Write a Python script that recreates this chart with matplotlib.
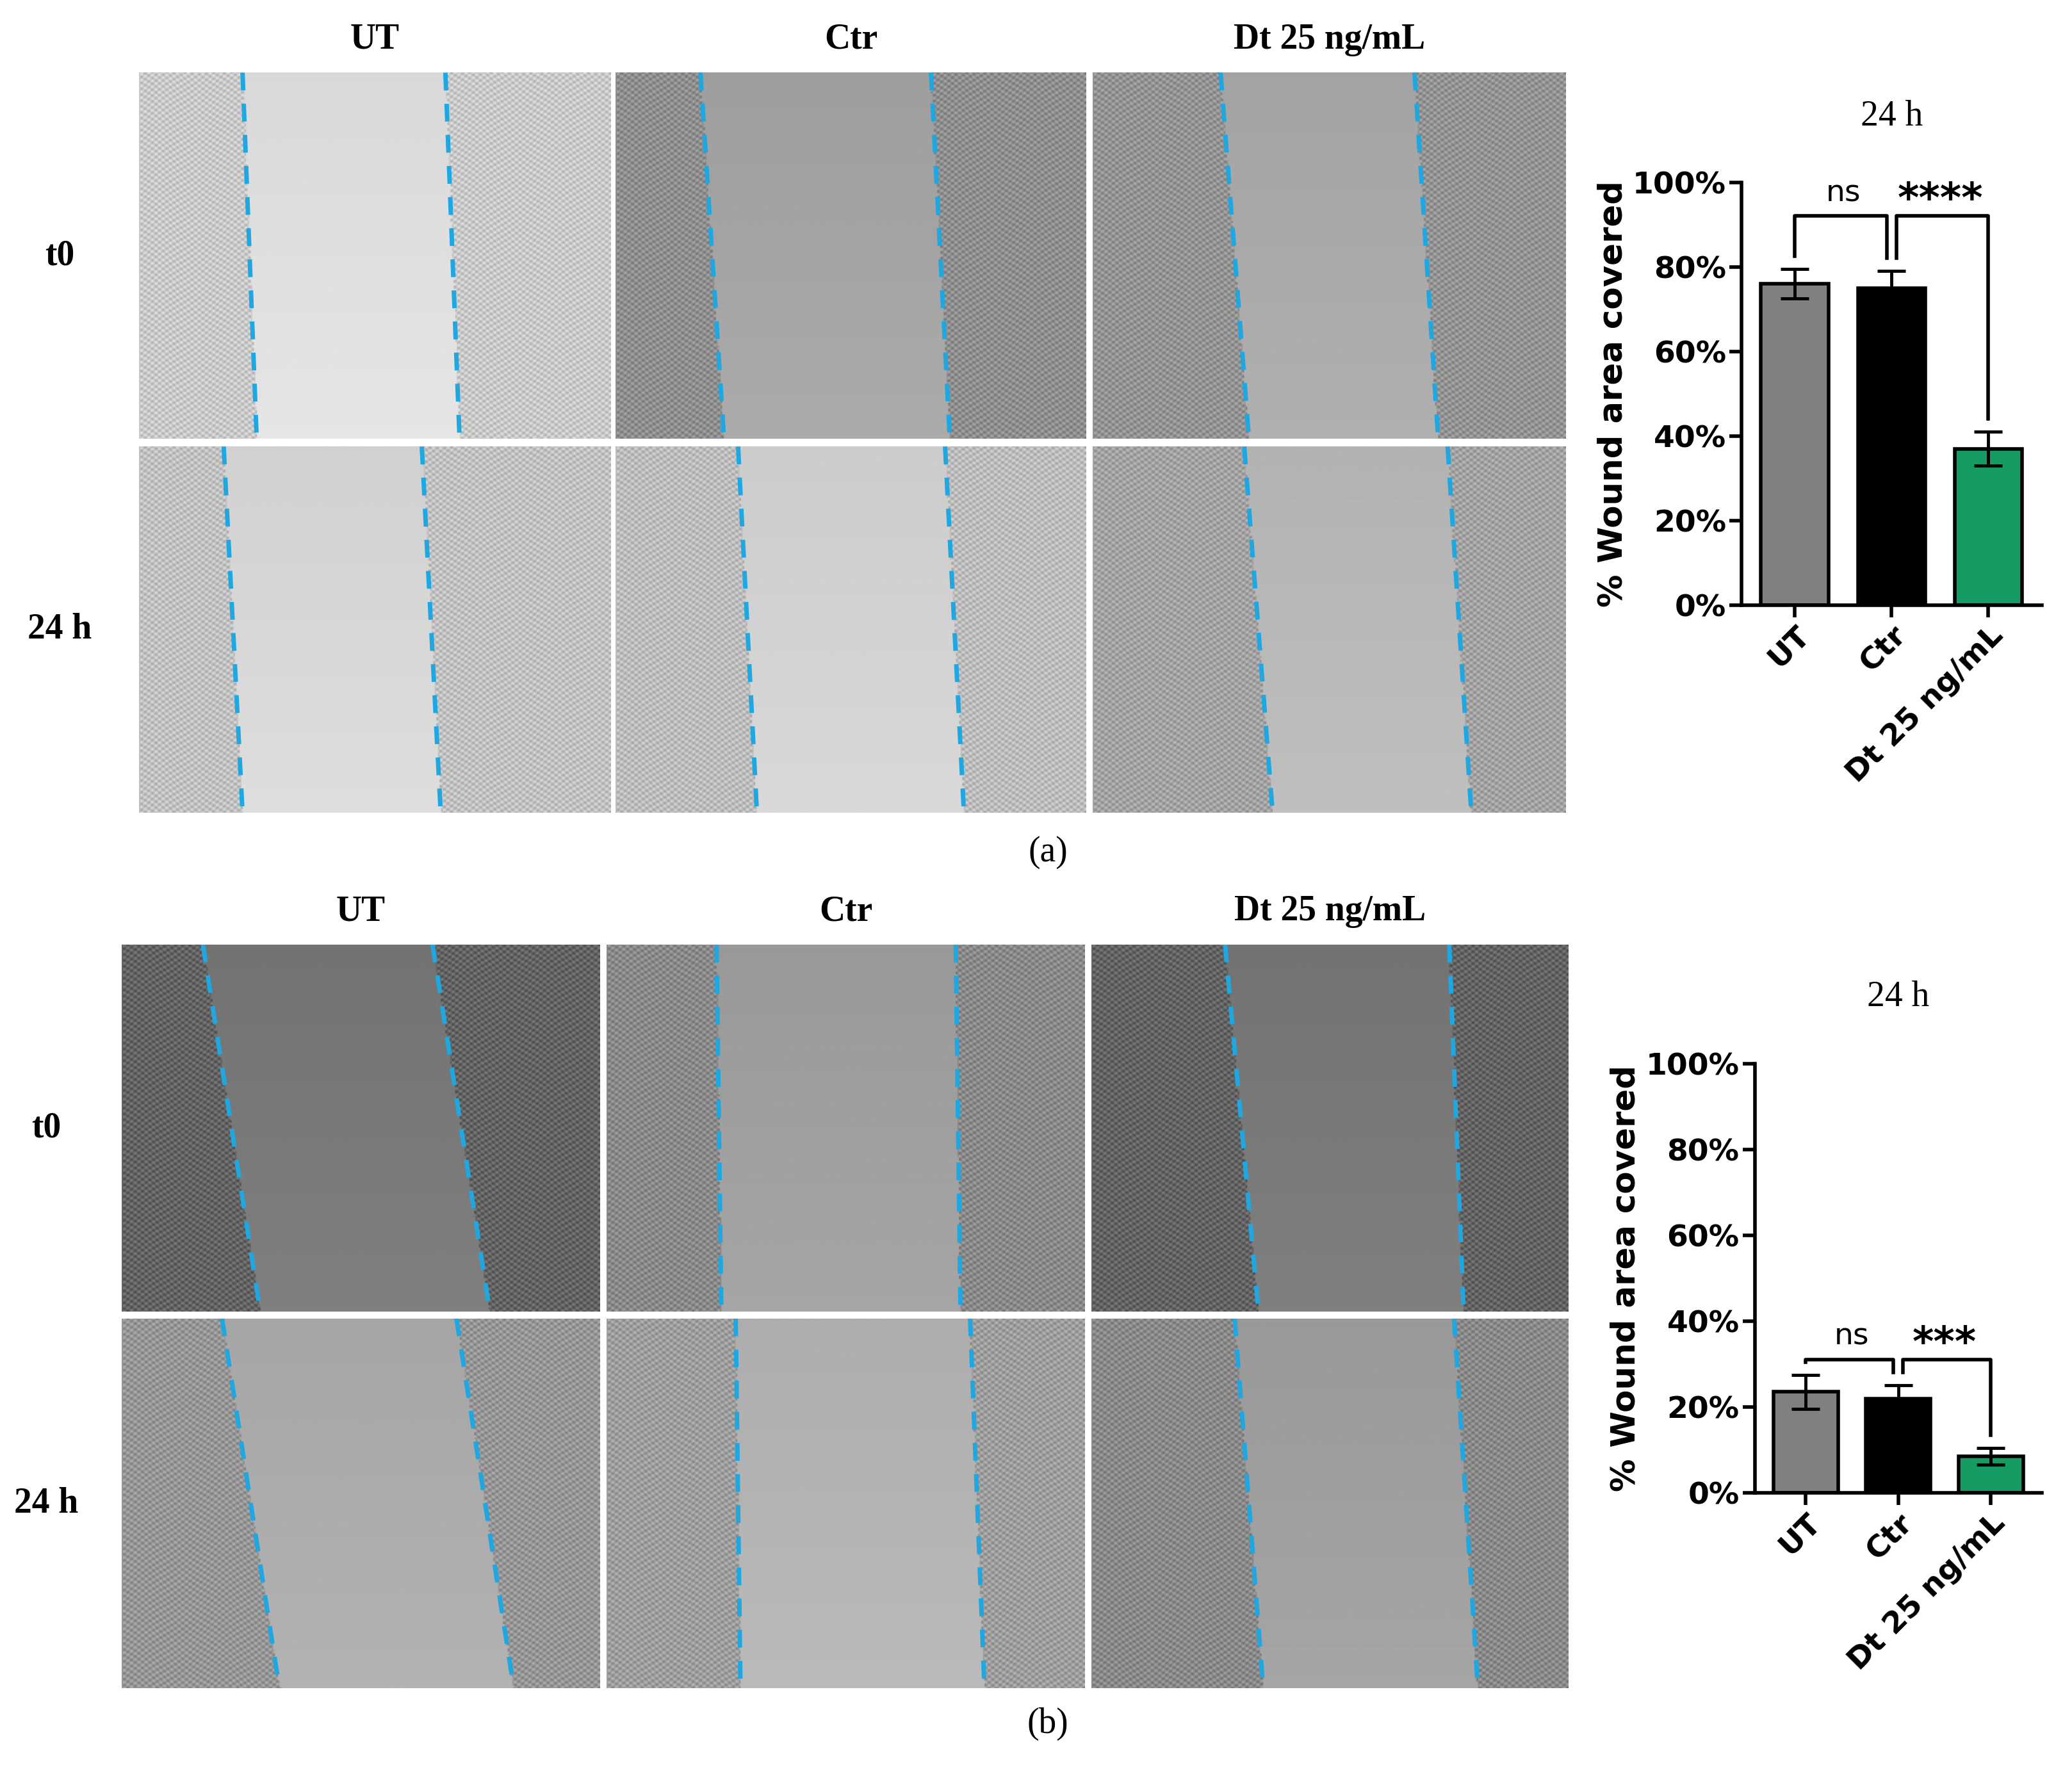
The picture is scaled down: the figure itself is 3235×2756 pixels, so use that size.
import matplotlib.pyplot as plt
import numpy as np
from matplotlib.ticker import PercentFormatter

W, H = 1568, 1336  # layout reference grid
groups = ["UT", "Ctr", "Dt 25 ng/mL"]
rows = ["t0", "24 h"]
bar_colors = ["#808080", "#000000", "#169b62"]

# panel a
a_vals = [76, 75, 37]
a_err = [3.5, 4, 4]
a_bracket = 92
# panel b
b_vals = [23.5, 22, 8.5]
b_err = [4, 3, 2]
b_bracket = 31

# wound edges as fraction of image width: (top-left, bottom-left, top-right, bottom-right)
a_edges = [[(0.22, 0.25, 0.65, 0.68), (0.18, 0.22, 0.6, 0.64)],
           [(0.18, 0.23, 0.67, 0.71), (0.26, 0.3, 0.7, 0.74)],
           [(0.27, 0.33, 0.68, 0.73), (0.32, 0.38, 0.75, 0.8)]]
b_edges = [[(0.17, 0.29, 0.65, 0.77), (0.21, 0.33, 0.7, 0.82)],
           [(0.23, 0.24, 0.73, 0.74), (0.27, 0.28, 0.76, 0.79)],
           [(0.28, 0.35, 0.75, 0.78), (0.3, 0.36, 0.76, 0.81)]]
a_tone = [[0.85, 0.82], [0.62, 0.8], [0.64, 0.7]]
b_tone = [[0.45, 0.65], [0.6, 0.68], [0.45, 0.6]]

fig = plt.figure(figsize=(32.35, 27.56), dpi=100)
plt.rcParams['font.family'] = 'DejaVu Sans'


def ax_at(x0, y0, x1, y1):
    return fig.add_axes([x0 / W, 1 - y1 / H, (x1 - x0) / W, (y1 - y0) / H])


def micro(x0, y0, x1, y1, edges, tone):
    ax = ax_at(x0, y0, x1, y1)
    n = 300
    xx, yy = np.meshgrid(np.linspace(0, 1, n), np.linspace(0, 1, n))
    tl, bl, tr, br = edges
    left = tl + (bl - tl) * yy
    right = tr + (br - tr) * yy
    inside = (xx > left) & (xx < right)
    tex = 0.12 * np.sin(xx * 410) * np.sin(yy * 390 + 3 * np.sin(xx * 37))
    img = np.where(inside, tone + 0.05 * yy, tone - 0.06 + tex)
    ax.imshow(np.clip(img, 0, 1), cmap="gray", vmin=0, vmax=1,
              extent=[0, 1, 1, 0], aspect="auto")
    ax.plot([tl, bl], [0, 1], ls=(0, (4, 3)), color="#1ea7e1", lw=5)
    ax.plot([tr, br], [0, 1], ls=(0, (4, 3)), color="#1ea7e1", lw=5)
    ax.set_xlim(0, 1)
    ax.set_ylim(1, 0)
    ax.axis("off")


def panel(cols, rws, edges, tones, head_y, row_x):
    for i, (x0, x1) in enumerate(cols):
        fig.text((x0 + x1) / 2 / W, 1 - head_y / H, groups[i], ha="center",
                 va="center", fontsize=40, fontweight="bold", family="Liberation Serif")
        for j, (y0, y1) in enumerate(rws):
            micro(x0, y0, x1, y1, edges[i][j], tones[i][j])
    for j, (y0, y1) in enumerate(rws):
        fig.text(row_x / W, 1 - (y0 + y1) / 2 / H, rows[j], ha="center",
                 va="center", fontsize=40, fontweight="bold", family="Liberation Serif")


def bars(x0, y0, x1, y1, vals, errs, sig, h1, title_y):
    ax = ax_at(x0, y0, x1, y1)
    x = np.arange(3)
    ax.bar(x, vals, width=0.7, color=bar_colors, edgecolor="black", lw=4,
           yerr=errs, capsize=16, error_kw=dict(lw=3.5, capthick=3.5))
    ax.set_ylim(0, 100)
    ax.set_xlim(-0.55, 2.55)
    ax.yaxis.set_major_formatter(PercentFormatter(decimals=0))
    ax.set_yticks(range(0, 101, 20))
    ax.set_xticks(x)
    ax.set_xticklabels(groups, rotation=45, ha="right", rotation_mode="anchor",
                       fontsize=34, fontweight="bold")
    ax.tick_params(axis="y", labelsize=34, width=4, length=14)
    ax.tick_params(axis="x", width=4, length=14)
    for lab in ax.get_yticklabels():
        lab.set_fontweight("bold")
    for s in ["top", "right"]:
        ax.spines[s].set_visible(False)
    for s in ["left", "bottom"]:
        ax.spines[s].set_linewidth(4)
    ax.set_ylabel("% Wound area covered", fontsize=37, fontweight="bold")
    ax.text(0.5, 1 + (y0 - title_y) / (y1 - y0), "24 h", transform=ax.transAxes,
            ha="center", va="center", fontsize=40, family="Liberation Serif")
    # significance brackets
    ax.plot([0, 0, 0.95, 0.95], [vals[0] + errs[0] + 3, h1, h1, vals[1] + errs[1] + 3], color="black", lw=4)
    ax.text(0.5, h1 + 2, "ns", ha="center", va="bottom", fontsize=34)
    ax.plot([1.05, 1.05, 2, 2], [vals[1] + errs[1] + 3, h1, h1, vals[2] + errs[2] + 3], color="black", lw=4)
    ax.text(1.5, h1 - 1, sig, ha="center", va="bottom", fontsize=46, fontweight="bold")


panel([(105, 462), (466, 822), (827, 1185)], [(55, 332), (338, 615)],
      a_edges, a_tone, 30, 45)
panel([(92, 454), (459, 821), (826, 1187)], [(715, 993), (998, 1278)],
      b_edges, b_tone, 690, 35)
bars(1318, 138, 1545, 458, a_vals, a_err, "****", a_bracket, 88)
bars(1328, 805, 1545, 1130, b_vals, b_err, "***", b_bracket, 755)

fig.text(793 / W, 1 - 645 / H, "(a)", ha="center", va="center", fontsize=40,
         family="Liberation Serif")
fig.text(793 / W, 1 - 1305 / H, "(b)", ha="center", va="center", fontsize=40,
         family="Liberation Serif")

fig.savefig("out.png", dpi=100)
